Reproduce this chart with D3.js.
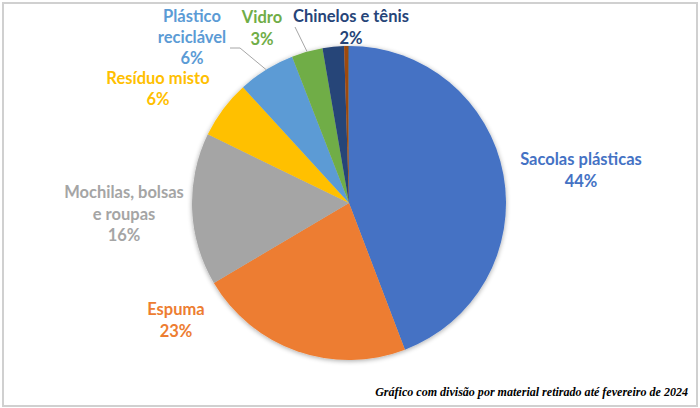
<!DOCTYPE html>
<html>
<head>
<meta charset="utf-8">
<script src="https://cdn.jsdelivr.net/npm/d3@7"></script>
<style>
  html, body { margin: 0; padding: 0; background: #fff; }
  svg { display: block; }
</style>
</head>
<body>
<svg id="chart" width="700" height="408"></svg>
<script>
// ---- data ----
const categories = ["Sacolas plásticas", "Espuma", "Mochilas, bolsas e roupas", "Resíduo misto",
                    "Plástico reciclável", "Vidro", "Chinelos e tênis", "Outros 1", "Outros 2"];
const values = [44.2, 22.3, 15.7, 6.0, 5.9, 3.2, 2.2, 0.4, 0.1];
const labelText = ["44%", "23%", "16%", "6%", "6%", "3%", "2%", null, null];
const colors = ["#4472C4", "#ED7D31", "#A5A5A5", "#FFC000", "#5B9BD5", "#70AD47", "#264478", "#9E480E", "#636363"];
const footnote = "Gráfico com divisão por material retirado até fevereiro de 2024";

// ---- layout (not data) ----
const W = 700, H = 408;
const cx = 349, cy = 203, R = 157;
const labelLayout = [
  { lines: ["Sacolas plásticas"], x: 581, y: 165, lh: 21.5 },
  { lines: ["Espuma"], x: 176, y: 315, lh: 21.5 },
  { lines: ["Mochilas, bolsas", "e roupas"], x: 124, y: 198, lh: 21.5 },
  { lines: ["Resíduo misto"], x: 158, y: 84, lh: 21 },
  { lines: ["Plástico", "reciclável"], x: 192, y: 22, lh: 21 },
  { lines: ["Vidro"], x: 262, y: 23, lh: 21.5 },
  { lines: ["Chinelos e tênis"], x: 351, y: 22, lh: 21.5 },
  null, null
];
const leaders = [
  { i: 4, pts: [[230, 48], [240, 48]] },
  { i: 5, pts: [[295, 27]] }
];

const svg = d3.select("#chart");

svg.append("rect").attr("x", 3).attr("y", 3).attr("width", W - 6).attr("height", H - 5)
  .attr("fill", "#fff").attr("stroke", "#d0d0d0").attr("stroke-width", 2);

const defs = svg.append("defs");
const f = defs.append("filter").attr("id", "sh").attr("x", "-20%").attr("y", "-20%").attr("width", "140%").attr("height", "140%");
f.append("feGaussianBlur").attr("in", "SourceAlpha").attr("stdDeviation", 2.5).attr("result", "b");
f.append("feOffset").attr("in", "b").attr("dx", 0).attr("dy", 1).attr("result", "o");
f.append("feComponentTransfer").attr("in", "o").attr("result", "o2")
  .append("feFuncA").attr("type", "linear").attr("slope", 0.35);
const fm = f.append("feMerge");
fm.append("feMergeNode").attr("in", "o2");
fm.append("feMergeNode").attr("in", "SourceGraphic");

const pie = d3.pie().sort(null).value(d => d).startAngle(0).endAngle(2 * Math.PI);
const arcs = pie(values);
const arc = d3.arc().innerRadius(0).outerRadius(R);

const g = svg.append("g").attr("transform", `translate(${cx},${cy})`).attr("filter", "url(#sh)");
g.selectAll("path").data(arcs).join("path")
  .attr("d", arc)
  .attr("fill", (d, i) => colors[i]);

leaders.forEach(L => {
  const a = arcs[L.i];
  const mid = (a.startAngle + a.endAngle) / 2;
  const ex = cx + Math.sin(mid) * R;
  const ey = cy - Math.cos(mid) * R;
  const pts = L.pts.concat([[ex, ey]]);
  svg.append("path").attr("d", d3.line()(pts))
    .attr("fill", "none").attr("stroke", "#a6a6a6").attr("stroke-width", 1);
});

labelLayout.forEach((L, i) => {
  if (!L) return;
  const t = svg.append("text")
    .attr("text-anchor", "middle")
    .attr("font-family", "Lato, 'Open Sans', sans-serif")
    .attr("font-weight", "bold")
    .attr("font-size", 16.5)
    .attr("fill", colors[i]);
  const lines = L.lines.concat([labelText[i]]);
  lines.forEach((s, k) => {
    t.append("tspan").attr("x", L.x).attr("y", L.y + k * L.lh).text(s);
  });
});

// footnote, fitted to the reference width
const fn = svg.append("text")
  .attr("x", 688).attr("y", 396)
  .attr("text-anchor", "end")
  .attr("font-family", "'Liberation Serif', serif")
  .attr("font-style", "italic").attr("font-weight", "bold")
  .attr("font-size", 12)
  .attr("fill", "#000")
  .text(footnote);
const wNow = fn.node().getComputedTextLength();
fn.attr("font-size", 12 * 313 / wNow);
</script>
</body>
</html>
